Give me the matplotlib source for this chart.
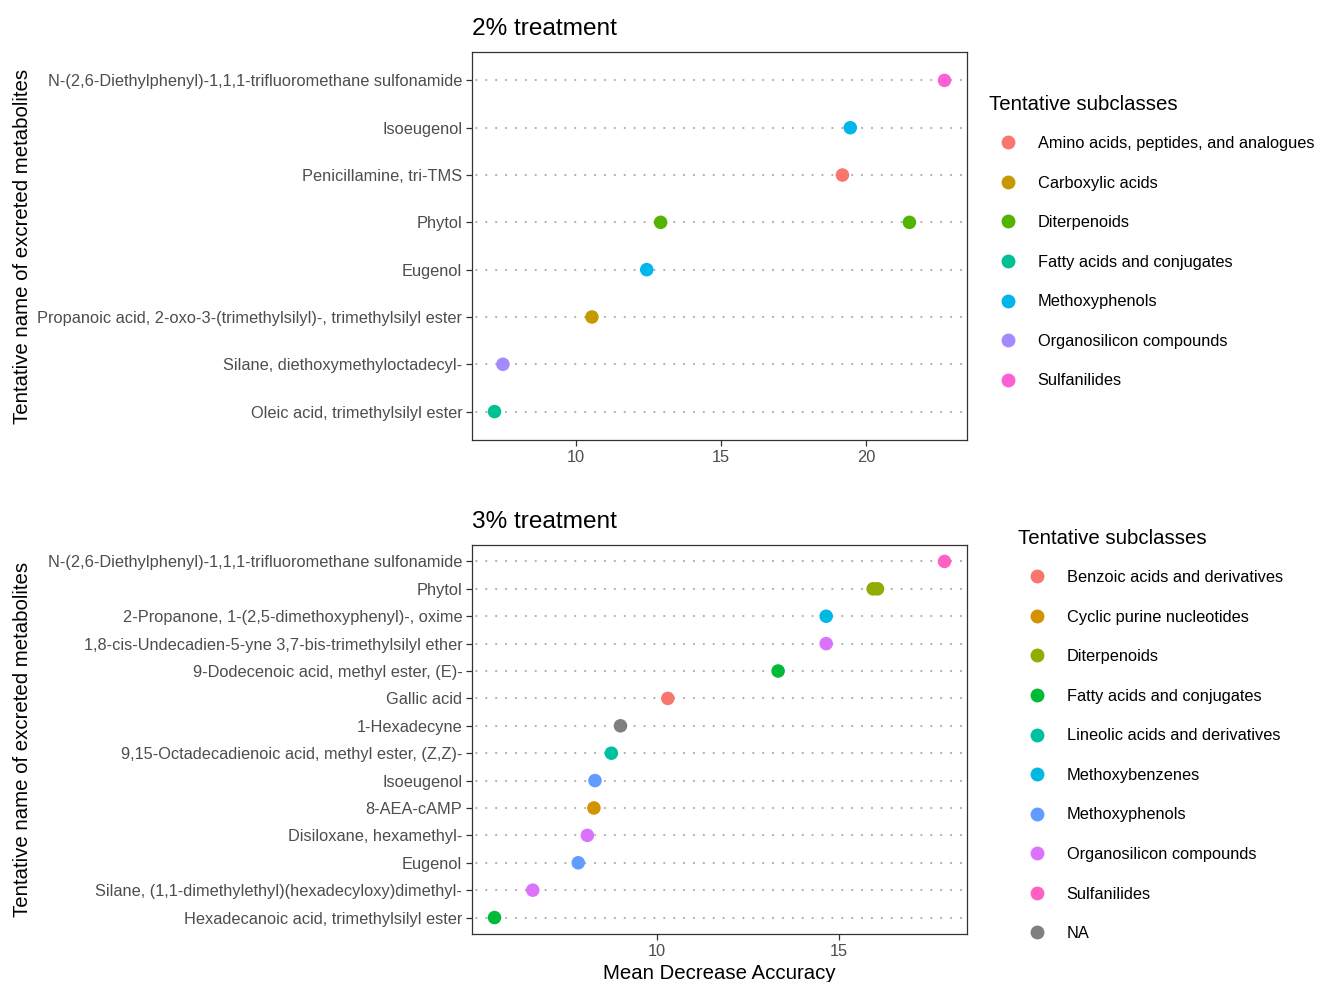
import matplotlib
matplotlib.use("Agg")
import matplotlib.pyplot as plt
from matplotlib.lines import Line2D
from matplotlib.transforms import blended_transform_factory

plt.rcParams['font.family'] = ['Liberation Sans', 'DejaVu Sans']

W, H, DPI = 1317, 982, 100

# ---- 2% treatment -------------------------------------------------------
t2_rows = [
    "Oleic acid, trimethylsilyl ester",
    "Silane, diethoxymethyloctadecyl-",
    "Propanoic acid, 2-oxo-3-(trimethylsilyl)-, trimethylsilyl ester",
    "Eugenol",
    "Phytol",
    "Penicillamine, tri-TMS",
    "Isoeugenol",
    "N-(2,6-Diethylphenyl)-1,1,1-trifluoromethane sulfonamide",
]
t2_names = [
    "Oleic acid, trimethylsilyl ester",
    "Silane, diethoxymethyloctadecyl-",
    "Propanoic acid, 2-oxo-3-(trimethylsilyl)-, trimethylsilyl ester",
    "Eugenol",
    "Phytol",
    "Phytol",
    "Penicillamine, tri-TMS",
    "Isoeugenol",
    "N-(2,6-Diethylphenyl)-1,1,1-trifluoromethane sulfonamide",
]
t2_values = [7.19, 7.48, 10.55, 12.44, 12.92, 21.50, 19.19, 19.46, 22.71]
t2_classes = [
    "Fatty acids and conjugates",
    "Organosilicon compounds",
    "Carboxylic acids",
    "Methoxyphenols",
    "Diterpenoids",
    "Diterpenoids",
    "Amino acids, peptides, and analogues",
    "Methoxyphenols",
    "Sulfanilides",
]
t2_levels = [
    "Amino acids, peptides, and analogues",
    "Carboxylic acids",
    "Diterpenoids",
    "Fatty acids and conjugates",
    "Methoxyphenols",
    "Organosilicon compounds",
    "Sulfanilides",
]
t2_colors = ["#F8766D", "#C49A00", "#53B400", "#00C094", "#00B6EB", "#A58AFF", "#FB61D7"]
t2_xticks = [10, 15, 20]

# ---- 3% treatment -------------------------------------------------------
t3_rows = [
    "Hexadecanoic acid, trimethylsilyl ester",
    "Silane, (1,1-dimethylethyl)(hexadecyloxy)dimethyl-",
    "Eugenol",
    "Disiloxane, hexamethyl-",
    "8-AEA-cAMP",
    "Isoeugenol",
    "9,15-Octadecadienoic acid, methyl ester, (Z,Z)-",
    "1-Hexadecyne",
    "Gallic acid",
    "9-Dodecenoic acid, methyl ester, (E)-",
    "1,8-cis-Undecadien-5-yne 3,7-bis-trimethylsilyl ether",
    "2-Propanone, 1-(2,5-dimethoxyphenyl)-, oxime",
    "Phytol",
    "N-(2,6-Diethylphenyl)-1,1,1-trifluoromethane sulfonamide",
]
t3_names = [
    "Hexadecanoic acid, trimethylsilyl ester",
    "Silane, (1,1-dimethylethyl)(hexadecyloxy)dimethyl-",
    "Eugenol",
    "Disiloxane, hexamethyl-",
    "8-AEA-cAMP",
    "Isoeugenol",
    "9,15-Octadecadienoic acid, methyl ester, (Z,Z)-",
    "1-Hexadecyne",
    "Gallic acid",
    "9-Dodecenoic acid, methyl ester, (E)-",
    "1,8-cis-Undecadien-5-yne 3,7-bis-trimethylsilyl ether",
    "2-Propanone, 1-(2,5-dimethoxyphenyl)-, oxime",
    "Phytol",
    "Phytol",
    "N-(2,6-Diethylphenyl)-1,1,1-trifluoromethane sulfonamide",
]
t3_values = [5.53, 6.58, 7.83, 8.08, 8.26, 8.29, 8.74, 8.99, 10.29, 13.32,
             14.64, 14.64, 15.93, 16.05, 17.89]
t3_classes = [
    "Fatty acids and conjugates",
    "Organosilicon compounds",
    "Methoxyphenols",
    "Organosilicon compounds",
    "Cyclic purine nucleotides",
    "Methoxyphenols",
    "Lineolic acids and derivatives",
    "NA",
    "Benzoic acids and derivatives",
    "Fatty acids and conjugates",
    "Organosilicon compounds",
    "Methoxybenzenes",
    "Diterpenoids",
    "Diterpenoids",
    "Sulfanilides",
]
t3_levels = [
    "Benzoic acids and derivatives",
    "Cyclic purine nucleotides",
    "Diterpenoids",
    "Fatty acids and conjugates",
    "Lineolic acids and derivatives",
    "Methoxybenzenes",
    "Methoxyphenols",
    "Organosilicon compounds",
    "Sulfanilides",
    "NA",
]
t3_colors = ["#F8766D", "#D39200", "#93AA00", "#00BA38", "#00C19F",
             "#00B9E3", "#619CFF", "#DB72FB", "#FF61C3", "#7F7F7F"]
t3_xticks = [10, 15]

AX_TEXT = 11.8
AX_TITLE = 14.7
PLOT_TITLE = 17.6
TICK_COL = "#4D4D4D"
FRAME_COL = "#333333"


def px_rect(left, top, right, bottom):
    return [left / W, 1 - bottom / H, (right - left) / W, (bottom - top) / H]


def draw_panel(ax, title, rows, names, values, classes, levels, colors, xticks,
               legend_left, legend_top):
    cmap = dict(zip(levels, colors))
    ypos = {r: i + 1 for i, r in enumerate(rows)}
    ys = [ypos[n] for n in names]
    cs = [cmap[c] for c in classes]

    lo, hi = min(values), max(values)
    pad = 0.05 * (hi - lo)
    ax.set_xlim(lo - pad, hi + pad)
    ax.set_ylim(0.4, len(rows) + 0.6)

    ax.set_yticks(range(1, len(rows) + 1))
    ax.set_yticklabels(rows)
    ax.set_xticks(xticks)
    ax.set_xticklabels([str(t) for t in xticks])

    # dotted row guides
    ax.set_axisbelow(True)
    ax.yaxis.grid(True, color="#B0B0B0", linewidth=1.6,
                  linestyle=(2.5, (0.05, 4.4)), dash_capstyle="round")
    ax.xaxis.grid(False)

    ax.scatter(values, ys, s=95, c=cs, edgecolors="none", zorder=3)

    for sp in ax.spines.values():
        sp.set_color(FRAME_COL)
        sp.set_linewidth(0.9)
    ax.tick_params(axis="both", colors=FRAME_COL, length=4, width=0.9,
                   labelsize=AX_TEXT, labelcolor=TICK_COL, pad=3)

    ax.set_ylabel("Tentative name of excreted metabolites", fontsize=AX_TITLE,
                  color="black", va="center")
    ax.yaxis.set_label_coords(
        23 / W, 0.5,
        transform=blended_transform_factory(ax.figure.transFigure, ax.transAxes))
    ax.set_title(title, loc="left", fontsize=PLOT_TITLE, color="black", pad=12)

    handles = [Line2D([], [], linestyle="none", marker="o", markersize=10,
                      markerfacecolor=c, markeredgecolor="none") for c in colors]
    leg = ax.legend(handles, levels, title="Tentative subclasses",
                    loc="upper left",
                    bbox_to_anchor=(legend_left / W, 1 - legend_top / H),
                    bbox_transform=ax.figure.transFigure,
                    frameon=False, fontsize=AX_TEXT,
                    title_fontsize=AX_TITLE, alignment="left",
                    borderpad=0, borderaxespad=0, handlelength=2.3,
                    handletextpad=0.67, labelspacing=1.5)
    # tighter gap between the legend title and the first key
    leg._legend_box.sep = 15.8
    return leg


fig = plt.figure(figsize=(W / DPI, H / DPI), dpi=DPI)
fig.patch.set_facecolor("white")

ax_top = fig.add_axes(px_rect(472, 52, 967, 440))
draw_panel(ax_top, "2% treatment", t2_rows, t2_names, t2_values, t2_classes,
           t2_levels, t2_colors, t2_xticks, legend_left=989, legend_top=95)

ax_bot = fig.add_axes(px_rect(472, 545, 967, 934))
draw_panel(ax_bot, "3% treatment", t3_rows, t3_names, t3_values, t3_classes,
           t3_levels, t3_colors, t3_xticks, legend_left=1018, legend_top=529)
ax_bot.set_xlabel("Mean Decrease Accuracy", fontsize=AX_TITLE, color="black",
                  labelpad=4)

fig.savefig("out.png", dpi=DPI)
